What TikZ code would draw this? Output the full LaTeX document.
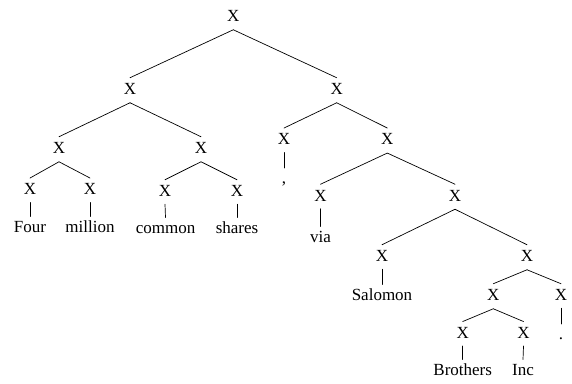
\documentclass[tikz,border=0pt]{standalone}
\usepackage{fontspec}
\setmainfont{Liberation Serif}
\tikzset{
  xn/.style={font=\fontsize{17}{20}\selectfont, inner sep=0pt},
  wd/.style={font=\fontsize{17}{20}\selectfont, inner sep=0pt, anchor=base},
  br/.style={line width=0.7pt, line cap=round},
}
\newcommand\tedge[2]{\draw[br] ([yshift=-8pt]#1.south) -- ([yshift=5.5pt]#2.north);}
\newcommand\tleaf[2]{\draw[br] ([yshift=-7.5pt]#1.south) -- ([yshift=15.5pt]#2.base);}
\begin{document}
\begin{tikzpicture}
\useasboundingbox (0,0) rectangle (572pt,-383pt);
% internal and preterminal nodes
\node[xn] (r)    at (233.3pt,-16pt)   {X};
\node[xn] (a)    at (130pt,-89pt)     {X};
\node[xn] (b)    at (336.7pt,-89pt)   {X};
\node[xn] (aa)   at (59pt,-148pt)     {X};
\node[xn] (ab)   at (201pt,-148pt)    {X};
\node[xn] (n1)   at (30pt,-189.3pt)   {X};
\node[xn] (n2)   at (90pt,-189.3pt)   {X};
\node[xn] (n3)   at (165pt,-191pt)    {X};
\node[xn] (n4)   at (237pt,-191pt)    {X};
\node[xn] (ba)   at (284pt,-139.3pt)  {X};
\node[xn] (bb)   at (387.3pt,-139.3pt){X};
\node[xn] (bba)  at (320.5pt,-195.5pt){X};
\node[xn] (bbb)  at (455pt,-195.5pt)  {X};
\node[xn] (bbba) at (382pt,-256pt)    {X};
\node[xn] (bbbb) at (527pt,-256pt)    {X};
\node[xn] (c)    at (493.3pt,-295pt)  {X};
\node[xn] (d)    at (561pt,-295pt)    {X};
\node[xn] (e)    at (462.7pt,-332.8pt){X};
\node[xn] (f)    at (523.5pt,-332.8pt){X};
% words
\node[wd] (w1)  at (30pt,-232pt)     {Four};
\node[wd] (w2)  at (90pt,-232pt)     {million};
\node[wd] (w3)  at (165.5pt,-233pt)  {common};
\node[wd] (w4)  at (237pt,-233pt)    {shares};
\node[wd] (w5)  at (284pt,-183.5pt)  {,};
\node[wd] (w6)  at (320.5pt,-242pt)  {via};
\node[wd] (w7)  at (382pt,-300pt)    {Salomon};
\node[wd] (w8)  at (561pt,-339.5pt)  {.};
\node[wd] (w9)  at (462.7pt,-375pt)  {Brothers};
\node[wd] (w10) at (523pt,-375pt)    {Inc};
% branches
\tedge{r}{a} \tedge{r}{b}
\tedge{a}{aa} \tedge{a}{ab}
\tedge{aa}{n1} \tedge{aa}{n2}
\tedge{ab}{n3} \tedge{ab}{n4}
\tedge{b}{ba} \tedge{b}{bb}
\tedge{bb}{bba} \tedge{bb}{bbb}
\tedge{bbb}{bbba} \tedge{bbb}{bbbb}
\tedge{bbbb}{c} \tedge{bbbb}{d}
\tedge{c}{e} \tedge{c}{f}
% unary lines to words
\tleaf{n1}{w1} \tleaf{n2}{w2} \tleaf{n3}{w3} \tleaf{n4}{w4}
\tleaf{ba}{w5} \tleaf{bba}{w6} \tleaf{bbba}{w7} \tleaf{d}{w8}
\tleaf{e}{w9} \tleaf{f}{w10}
\end{tikzpicture}
\end{document}
